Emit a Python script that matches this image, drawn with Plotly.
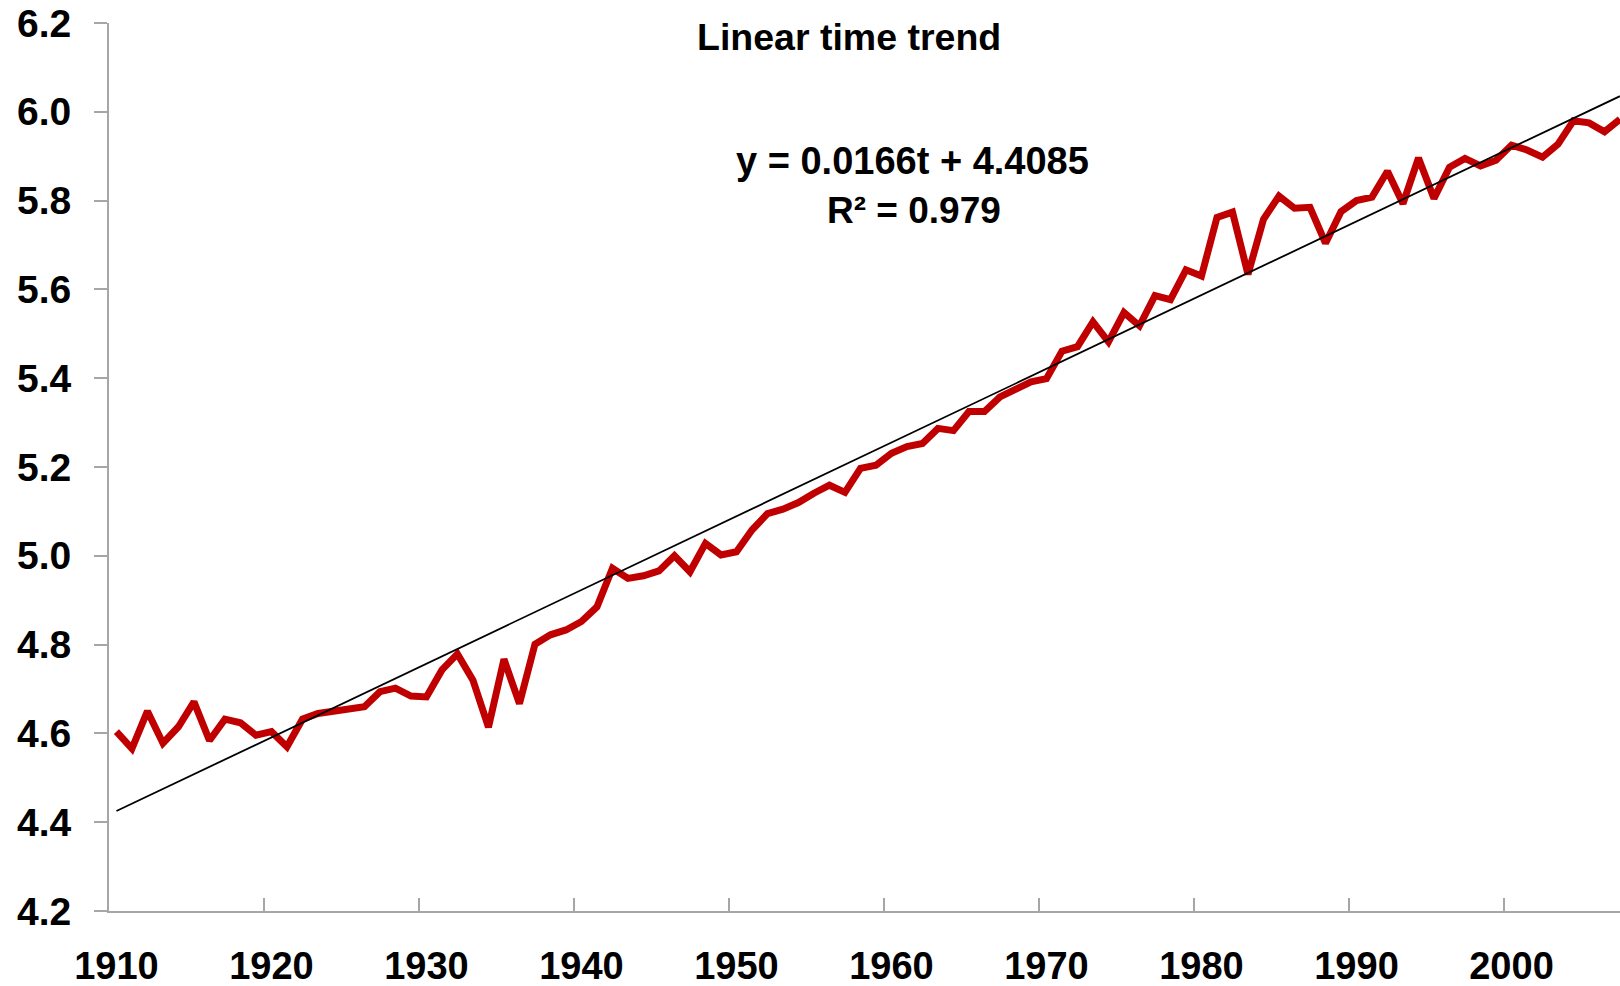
import plotly.graph_objects as go

# Annual series, 1910-2007
years = list(range(1910, 2008))
values = [
    4.604, 4.566, 4.650, 4.578, 4.615, 4.671, 4.584, 4.632, 4.624, 4.596,  # 1910s
    4.604, 4.570, 4.632, 4.645, 4.650, 4.654, 4.660, 4.694, 4.702, 4.684,  # 1920s
    4.682, 4.743, 4.779, 4.720, 4.614, 4.767, 4.667, 4.801, 4.822, 4.833,  # 1930s
    4.852, 4.885, 4.972, 4.949, 4.955, 4.966, 5.000, 4.964, 5.028, 5.002,  # 1940s
    5.009, 5.058, 5.095, 5.105, 5.120, 5.141, 5.159, 5.143, 5.197, 5.204,  # 1950s
    5.231, 5.246, 5.253, 5.287, 5.282, 5.325, 5.325, 5.358, 5.377, 5.392,  # 1960s
    5.399, 5.461, 5.471, 5.527, 5.482, 5.548, 5.518, 5.586, 5.577, 5.644,  # 1970s
    5.630, 5.762, 5.774, 5.634, 5.758, 5.810, 5.783, 5.785, 5.704, 5.775,  # 1980s
    5.800, 5.808, 5.866, 5.793, 5.896, 5.805, 5.875, 5.895, 5.878, 5.891,  # 1990s
    5.925, 5.914, 5.898, 5.927, 5.980, 5.975, 5.955, 5.983,                # 2000s
]

# Fitted linear trend, t = 1 for the first year
slope = 0.0166
intercept = 4.4085
r_squared = 0.979
trend = [slope * (y - years[0] + 1) + intercept for y in years]

x_tick_years = list(range(1910, 2001, 10))
y_tick_vals = [4.2, 4.4, 4.6, 4.8, 5.0, 5.2, 5.4, 5.6, 5.8, 6.0, 6.2]

font_family = "Liberation Sans, Arial, sans-serif"
axis_grey = "#a6a6a6"

fig = go.Figure()
fig.add_trace(go.Scatter(
    x=years, y=values, mode="lines",
    line=dict(color="#c00000", width=7, shape="linear"),
    showlegend=False, hoverinfo="x+y",
))
fig.add_trace(go.Scatter(
    x=years, y=trend, mode="lines",
    line=dict(color="#000000", width=1.8),
    showlegend=False, hoverinfo="skip",
))

fig.update_layout(
    width=1620, height=986,
    margin=dict(l=109, r=0, t=23, b=75, pad=0),
    paper_bgcolor="white", plot_bgcolor="white",
    font=dict(family=font_family, color="black"),
    xaxis=dict(
        range=[1909.52, 2007.0],
        tickmode="array", tickvals=x_tick_years,
        ticktext=[str(y) for y in x_tick_years],
        ticks="", showgrid=False, zeroline=False,
        showline=True, linecolor=axis_grey, linewidth=2,
        tickfont=dict(size=38, family=font_family, color="black", weight="bold"),
        ticklabelstandoff=20,
        minor=dict(tick0=1909.5, dtick=10, ticks="inside", ticklen=13,
                   tickcolor=axis_grey, tickwidth=1.5, showgrid=False),
    ),
    yaxis=dict(
        range=[4.2, 6.2],
        tickmode="array", tickvals=y_tick_vals,
        ticktext=[f"{v:.1f}" for v in y_tick_vals],
        ticks="outside", ticklen=13, tickcolor=axis_grey, tickwidth=1.5,
        showgrid=False, zeroline=False,
        showline=True, linecolor=axis_grey, linewidth=2,
        tickfont=dict(size=39, family=font_family, color="black", weight="bold"),
        ticklabelstandoff=15,
    ),
    annotations=[
        dict(text="Linear time trend", xref="paper", yref="paper",
             x=0.49, y=0.984, xanchor="center", yanchor="middle", showarrow=False,
             font=dict(size=37.5, family=font_family, color="black", weight="bold")),
        dict(text=f"y = {slope}t + {intercept}", xref="paper", yref="paper",
             x=0.5316, y=0.845, xanchor="center", yanchor="middle", showarrow=False,
             font=dict(size=38, family=font_family, color="black", weight="bold")),
        dict(text=f"R² = {r_squared}", xref="paper", yref="paper",
             x=0.533, y=0.789, xanchor="center", yanchor="middle", showarrow=False,
             font=dict(size=37, family=font_family, color="black", weight="bold")),
    ],
)

fig.write_html("out.html")
